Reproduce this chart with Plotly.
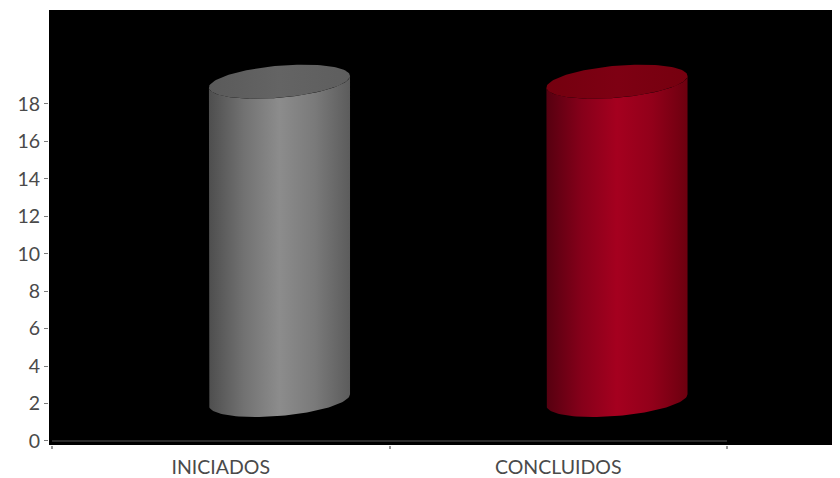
import numpy as np
import plotly.graph_objects as go

# ---- data ----
categories = ["INICIADOS", "CONCLUIDOS"]
values = [17, 17]
y_tick_values = [0, 2, 4, 6, 8, 10, 12, 14, 16, 18]

# ---- style ----
body_scales = [
    [[0, "#4e4e4e"], [0.25, "#727272"], [0.5, "#8c8c8c"], [0.75, "#7a7a7a"], [1, "#5c5c5c"]],
    [[0, "#560010"], [0.25, "#86001a"], [0.5, "#a5001f"], [0.75, "#92001a"], [1, "#6c000f"]],
]
top_colors = ["#616161", "#7c0012"]
top_scales = [
    [[0, "#5a5a5a"], [0.5, "#646464"], [1, "#5e5e5e"]],
    [[0, "#74000f"], [0.5, "#7e0013"], [1, "#76000f"]],
]

# 3D projection parameters (in axis units)
depth_dx = 0.174     # horizontal shift of column centre (x units)
depth_dy = 2.19      # vertical shift of column base (y units)
radius_x = 0.209     # half width of cylinder (x units)
radius_y = 0.855     # ellipse minor half-height (y units)
shear_y = 0.31       # tilt of the ellipse (y units)

t_front = np.linspace(np.pi, 2 * np.pi, 60)
t_full = np.linspace(0, 2 * np.pi, 120)


def ellipse(cx, cy, t):
    return cx + radius_x * np.cos(t), cy + shear_y * np.cos(t) + radius_y * np.sin(t)


fig = go.Figure()

for i, (cat, v) in enumerate(zip(categories, values)):
    cx = i + depth_dx
    base = depth_dy
    top = depth_dy + v
    bx, by = ellipse(cx, base, t_front)
    tx, ty = ellipse(cx, top, t_front[::-1])
    xs = np.concatenate([[cx - radius_x], bx, tx])
    ys = np.concatenate([[top - shear_y], by, ty])
    fig.add_trace(go.Scatter(
        x=xs, y=ys, mode="lines", fill="toself",
        line=dict(width=0, color=top_colors[i]),
        fillgradient=dict(type="horizontal", colorscale=body_scales[i]),
        hoverinfo="skip", showlegend=False,
    ))
    ex, ey = ellipse(cx, top, t_full)
    fig.add_trace(go.Scatter(
        x=ex, y=ey, mode="lines", fill="toself",
        line=dict(width=0, color=top_colors[i]),
        fillgradient=dict(type="horizontal", colorscale=top_scales[i]),
        hoverinfo="skip", showlegend=False,
    ))

# floor front edge (category axis line)
fig.add_trace(go.Scatter(
    x=[-0.5, len(categories) - 0.5], y=[0, 0], mode="lines",
    line=dict(color="#3a3a3a", width=1.5),
    hoverinfo="skip", showlegend=False,
))

# page body has an 8px margin: size the figure so the plot lands where the reference has it
fig.update_layout(
    width=832, height=470,
    margin=dict(l=41, r=0, t=2, b=33),
    paper_bgcolor="white",
    plot_bgcolor="black",
    showlegend=False,
    font=dict(family="Lato", color="#4a4a4a"),
)

fig.update_xaxes(
    range=[-0.5089, 1.8348],
    tickmode="array",
    tickvals=list(range(len(categories))),
    ticktext=categories,
    ticks="outside", ticklen=5, tickcolor="rgba(0,0,0,0)",
    tickfont=dict(size=19.5, color="#4a4a4a", family="Lato"),
    minor=dict(tickmode="array", tickvals=[-0.5, 0.5, 1.5],
               ticks="outside", ticklen=3, tickcolor="#9a9a9a", tickwidth=2,
               showgrid=False),
    showgrid=False, zeroline=False, showline=False,
    fixedrange=True,
)

fig.update_yaxes(
    range=[-0.214, 23.02],
    tickmode="array",
    tickvals=y_tick_values,
    ticks="outside", ticklen=4, tickcolor="#7a7a7a", tickwidth=1,
    tickfont=dict(size=19.5, color="#4a4a4a", family="Lato"),
    showgrid=False, zeroline=False, showline=False,
    fixedrange=True,
)

fig.write_html("out.html")
